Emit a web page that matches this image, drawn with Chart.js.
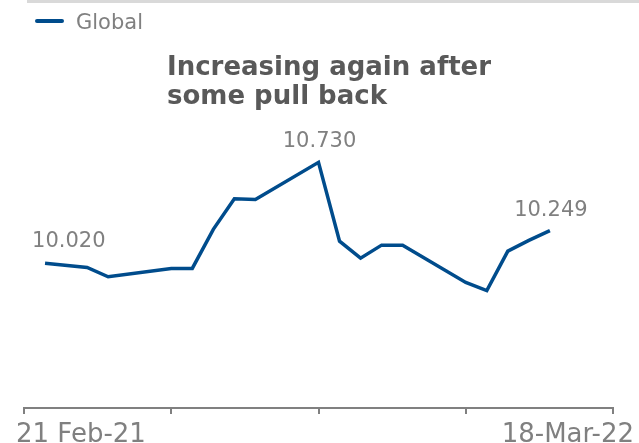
<!DOCTYPE html>
<html>
<head>
<meta charset="utf-8">
<script src="https://cdn.jsdelivr.net/npm/chart.js@4"></script>
<style>
  html, body { margin: 0; padding: 0; background: #ffffff; }
  #wrap { width: 639px; height: 443px; position: relative; }
</style>
</head>
<body>
<div id="wrap"><canvas id="c" width="639" height="443"></canvas></div>
<script>
// ---- data ----
const seriesName = "Global";
const chartTitle = ["Increasing again after", "some pull back"];
// biweekly period index along the axis (0 = 21 Feb-21, 28 = 18-Mar-22)
const periodIndex = [1, 3, 4, 7, 8, 9, 10, 11, 14, 15, 16, 17, 18, 21, 22, 23, 24, 25];
const globalValues = [10.020, 9.990, 9.924, 9.983, 9.983, 10.258, 10.474, 10.469, 10.730, 10.175, 10.055, 10.147, 10.147, 9.884, 9.827, 10.105, 10.180, 10.249];
const axisStartLabel = "21 Feb-21";
const axisEndLabel = "18-Mar-22";
const axisRange = [0, 28];
const tickStep = 7;
const labelledPoints = [0, 8, 17];

const points = periodIndex.map((x, i) => ({ x: x, y: globalValues[i] }));

const LINE = '#004C8C';
const GREY = '#808080';
const FONT = '"DejaVu Sans", Verdana, sans-serif';

const decor = {
  id: 'decor',
  afterDraw(chart) {
    const ctx = chart.ctx;
    const xs = chart.scales.x;
    const meta = chart.getDatasetMeta(0);
    ctx.save();
    // top rule
    ctx.fillStyle = '#d9d9d9';
    ctx.fillRect(27, 0, 612, 3);
    // legend
    ctx.strokeStyle = LINE;
    ctx.lineWidth = 4;
    ctx.lineCap = 'round';
    ctx.beginPath();
    ctx.moveTo(37, 21);
    ctx.lineTo(62, 21);
    ctx.stroke();
    ctx.fillStyle = GREY;
    ctx.font = '21px ' + FONT;
    ctx.textAlign = 'left';
    ctx.textBaseline = 'alphabetic';
    ctx.fillText(seriesName, 76, 29);
    // title
    ctx.fillStyle = '#595959';
    ctx.font = 'bold 26px ' + FONT;
    ctx.fillText(chartTitle[0], 167, 75);
    ctx.fillText(chartTitle[1], 167, 104);
    // data labels
    ctx.fillStyle = GREY;
    ctx.font = '21px ' + FONT;
    labelledPoints.forEach((idx, k) => {
      const p = meta.data[idx];
      const txt = globalValues[idx].toFixed(3);
      if (k === 0) {
        ctx.textAlign = 'left';
        ctx.fillText(txt, p.x - 13, p.y - 16);
      } else {
        ctx.textAlign = 'center';
        ctx.fillText(txt, p.x + 1, p.y - 15);
      }
    });
    // axis labels
    ctx.font = '26px ' + FONT;
    ctx.textAlign = 'left';
    ctx.fillText(axisStartLabel, xs.getPixelForValue(axisRange[0]) - 8, 442);
    ctx.textAlign = 'right';
    ctx.fillText(axisEndLabel, xs.getPixelForValue(axisRange[1]) + 21, 442);
    ctx.restore();
  }
};

new Chart(document.getElementById('c'), {
  type: 'line',
  data: {
    datasets: [{
      label: seriesName,
      data: points,
      borderColor: LINE,
      backgroundColor: LINE,
      borderWidth: 3.5,
      pointRadius: 0,
      tension: 0,
      borderJoinStyle: 'miter'
    }]
  },
  options: {
    responsive: false,
    animation: false,
    layout: { padding: { left: 24, right: 26, top: 124, bottom: 29 } },
    plugins: { legend: { display: false }, tooltip: { enabled: false }, title: { display: false } },
    scales: {
      x: {
        type: 'linear',
        min: axisRange[0],
        max: axisRange[1],
        ticks: { display: false, stepSize: tickStep },
        grid: { drawOnChartArea: false, drawTicks: true, tickLength: 6, color: GREY, lineWidth: 2 },
        border: { display: true, color: GREY, width: 2 }
      },
      y: {
        display: false,
        min: 9,
        max: 11
      }
    }
  },
  plugins: [decor]
});
</script>
</body>
</html>
